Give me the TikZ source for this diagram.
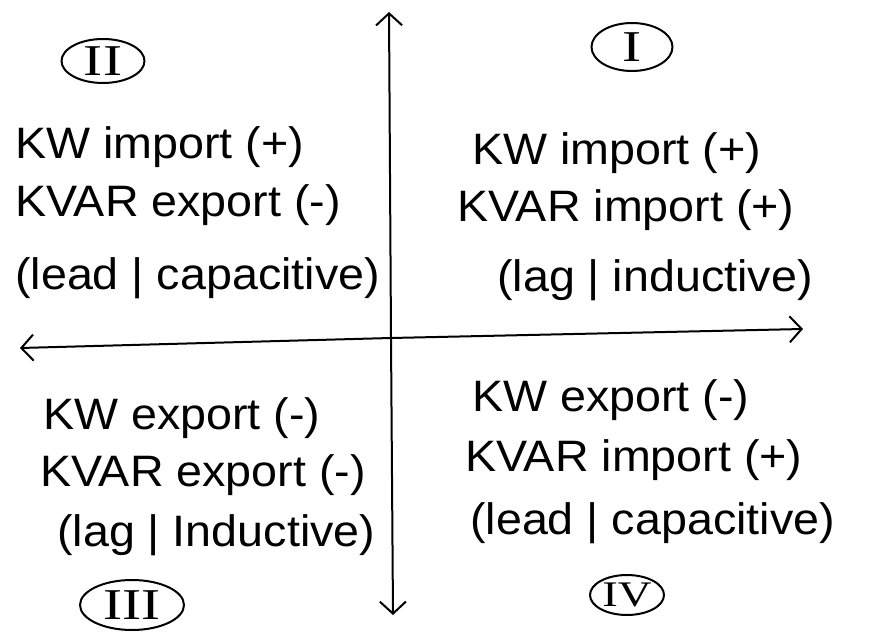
\documentclass[tikz,border=0pt]{standalone}
\usepackage{fontspec}
\setmainfont{Liberation Sans}
\newfontfamily\handfont[FakeStretch=1.06]{Liberation Sans}
\newfontfamily\numfont[FakeStretch=1.3]{Liberation Serif}
\usetikzlibrary{arrows.meta,shapes.geometric}
\begin{document}
\begin{tikzpicture}[x=1pt,y=-1pt,
  axis/.style={line width=2pt,-{Straight Barb[length=12pt,width=26pt,line width=2pt]}},
  qtxt/.style={anchor=west,inner sep=0pt,font=\handfont\fontsize{44}{50}\selectfont},
  quadlabel/.style={draw,ellipse,line width=2pt,inner sep=0pt,font=\numfont\fontsize{44}{46}\selectfont}]
\useasboundingbox (0,0) rectangle (870,636);
% axes
\coordinate (top) at (389,12);
\coordinate (bot) at (393,615);
\coordinate (lft) at (20,348);
\coordinate (rgt) at (803,329);
\coordinate (ctr) at (391,338);
\draw[axis] (ctr) -- (top);
\draw[axis] (ctr) -- (bot);
\draw[axis] (ctr) -- (lft);
\draw[axis] (ctr) -- (rgt);
% quadrant labels
\node[quadlabel,minimum width=83pt,minimum height=44pt] (q2) at (103,61) {II};
\node[quadlabel,minimum width=81pt,minimum height=48pt] (q1) at (632,47) {I};
\node[quadlabel,minimum width=104pt,minimum height=50pt] (q3) at (132,605) {III};
\node[quadlabel,minimum width=74pt,minimum height=40pt,font=\numfont\fontsize{36}{38}\selectfont] (q4) at (627,595) {IV};
% quadrant II
\node[qtxt] (a1) at (15,147) {KW import (+)};
\node[qtxt] (a2) at (15,205) {KVAR export (-)};
\node[qtxt] (a3) at (15,278) {(lead | capacitive)};
% quadrant I
\node[qtxt] (b1) at (472,153) {KW import (+)};
\node[qtxt] (b2) at (457,210) {KVAR import (+)};
\node[qtxt] (b3) at (497,280) {(lag | inductive)};
% quadrant III
\node[qtxt] (c1) at (43,418) {KW export (-)};
\node[qtxt] (c2) at (40,475) {KVAR export (-)};
\node[qtxt] (c3) at (57,535) {(lag | Inductive)};
% quadrant IV
\node[qtxt] (d1) at (472,400) {KW export (-)};
\node[qtxt] (d2) at (465,460) {KVAR import (+)};
\node[qtxt] (d3) at (470,523) {(lead | capacitive)};
\end{tikzpicture}
\end{document}
